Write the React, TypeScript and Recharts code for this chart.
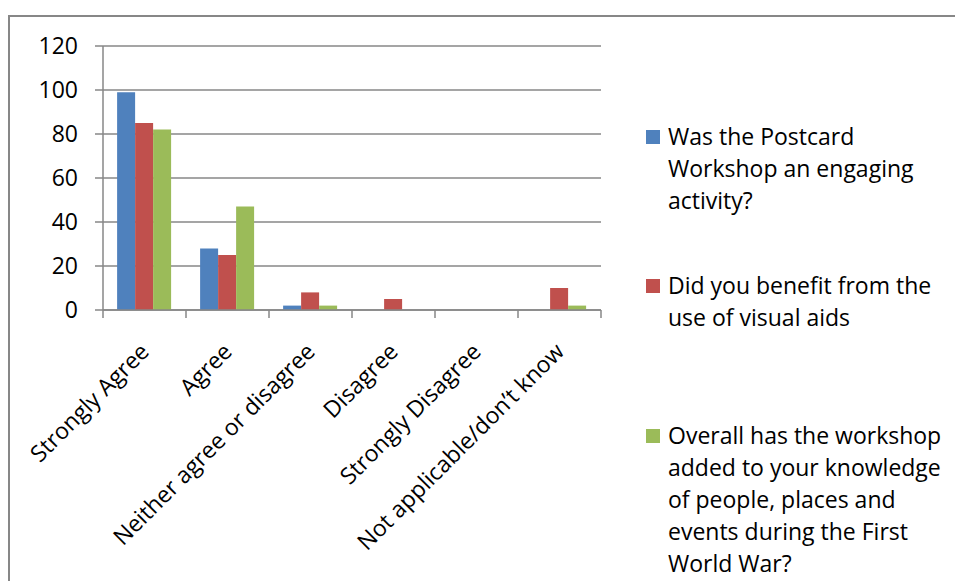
import { BarChart, Bar, XAxis, YAxis, CartesianGrid } from 'recharts';

const categories = [
  'Strongly Agree',
  'Agree',
  'Neither agree or disagree',
  'Disagree',
  'Strongly Disagree',
  'Not applicable/don\u2019t know',
];
const engaging = [99, 28, 2, 0, 0, 0];
const visualAids = [85, 25, 8, 5, 0, 10];
const knowledge = [82, 47, 2, 0, 0, 2];
const yTicks = [0, 20, 40, 60, 80, 100, 120];

const seriesNames = [
  'Was the Postcard\nWorkshop an engaging\nactivity?',
  'Did you benefit from the\nuse of visual aids',
  'Overall has the workshop\nadded to your knowledge\nof people, places and\nevents during the First\nWorld War?',
];
const colors = ['#4F81BD', '#C0504D', '#9BBB59'];

const data = categories.map((c, i) => ({
  name: c,
  s0: engaging[i],
  s1: visualAids[i],
  s2: knowledge[i],
}));

// layout
const W = 955;
const H = 581;
const PLOT_LEFT = 103;
const PLOT_RIGHT = 601;
const PLOT_TOP = 46;
const PLOT_BOTTOM = 310;
const BAND = (PLOT_RIGHT - PLOT_LEFT) / categories.length;
const FONT = '"Open Sans", "Noto Sans", sans-serif';
const FS = 23;
const GRID = '#878787';
const legendTops = [120, 269, 419];

const CategoryTick = (props: any) => {
  const { x, y, payload, index } = props;
  const half = BAND / 2;
  const tx = x + 6;
  const ty = y + 35;
  return (
    <g>
      <line x1={x - half} y1={y - 8} x2={x - half} y2={y} stroke={GRID} strokeWidth={1.5} />
      {index === categories.length - 1 && (
        <line x1={x + half} y1={y - 8} x2={x + half} y2={y} stroke={GRID} strokeWidth={1.5} />
      )}
      <text
        x={tx}
        y={ty}
        textAnchor="end"
        fontSize={FS}
        fontFamily={FONT}
        fill="#000"
        transform={`rotate(-45, ${tx}, ${ty})`}
      >
        {payload.value}
      </text>
    </g>
  );
};

export default function App() {
  return (
    <div style={{ position: 'absolute', left: 0, top: 0, width: W, height: H, background: '#fff', overflow: 'hidden', fontFamily: FONT }}>
      <div style={{ position: 'absolute', left: 8, top: 15, width: W, height: H, border: `2px solid ${GRID}`, boxSizing: 'border-box' }} />
      <div style={{ position: 'absolute', left: 0, top: 0 }}>
        <BarChart
          width={W}
          height={H}
          data={data}
          margin={{ top: PLOT_TOP, left: PLOT_LEFT - 60, right: W - PLOT_RIGHT, bottom: H - PLOT_BOTTOM - 30 }}
          barCategoryGap="17%"
          barGap={0}
        >
          <CartesianGrid vertical={false} stroke={GRID} strokeWidth={1.5} />
          <XAxis
            dataKey="name"
            interval={0}
            height={30}
            tickLine={false}
            tickSize={8}
            tickMargin={0}
            axisLine={{ stroke: GRID, strokeWidth: 1.5 }}
            tick={<CategoryTick />}
          />
          <YAxis
            width={60}
            domain={[0, 120]}
            ticks={yTicks}
            interval={0}
            tickSize={8}
            tickMargin={17}
            tickLine={{ stroke: GRID, strokeWidth: 1.5 }}
            axisLine={{ stroke: GRID, strokeWidth: 1.5 }}
            tick={{ fontSize: FS, fontFamily: FONT, fill: '#000' }}
          />
          <Bar dataKey="s0" name={seriesNames[0]} fill={colors[0]} isAnimationActive={false} />
          <Bar dataKey="s1" name={seriesNames[1]} fill={colors[1]} isAnimationActive={false} />
          <Bar dataKey="s2" name={seriesNames[2]} fill={colors[2]} isAnimationActive={false} />
        </BarChart>
      </div>
      {seriesNames.map((n, i) => (
        <div key={i} style={{ position: 'absolute', left: 646, top: legendTops[i] }}>
          <div style={{ position: 'absolute', left: 0, top: 10, width: 14, height: 14, background: colors[i] }} />
          <div style={{ position: 'absolute', left: 22, top: 0, width: 300, fontSize: FS, lineHeight: '32px', whiteSpace: 'pre-line', color: '#000' }}>
            {n}
          </div>
        </div>
      ))}
    </div>
  );
}
